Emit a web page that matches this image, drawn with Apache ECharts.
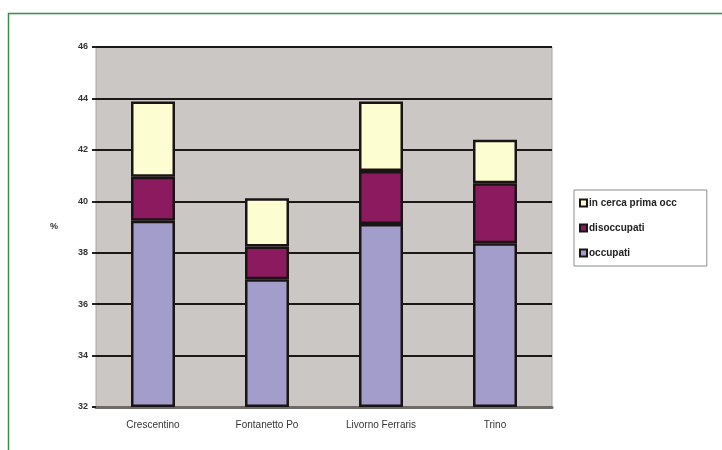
<!DOCTYPE html>
<html>
<head>
<meta charset="utf-8">
<script src="https://cdn.jsdelivr.net/npm/echarts@6/dist/echarts.min.js"></script>
<style>
  html, body { margin: 0; padding: 0; background: #ffffff; }
  #chart { width: 722px; height: 450px; }
</style>
</head>
<body>
<div id="chart"></div>
<script>
// Comuni e composizione percentuale (barre impilate)
const categories = ['Crescentino', 'Fontanetto Po', 'Livorno Ferraris', 'Trino'];
const occupati = [39.24, 36.97, 39.12, 38.37];
const disoccupati = [1.71, 1.27, 2.06, 2.33];
const inCercaPrimaOcc = [2.93, 1.88, 2.70, 1.69];
const yTicks = { min: 32, max: 46, interval: 2 };

// occupati is drawn from the axis minimum up to its value
const occBase = occupati.map(() => yTicks.min);
const occHeight = occupati.map(v => v - yTicks.min);

const chart = echarts.init(document.getElementById('chart'));
const barStyle = (color) => ({ color: color, borderColor: '#1a1414', borderWidth: 2.5 });

chart.setOption({
  animation: false,
  textStyle: { fontFamily: 'Liberation Sans, Arial, sans-serif' },
  graphic: [{
    type: 'rect',
    shape: { x: 8.5, y: 13.5, width: 760, height: 460 },
    style: { fill: 'none', stroke: '#3f8a47', lineWidth: 1.5 },
    silent: true
  }],
  grid: {
    left: 96, right: 170, top: 47, bottom: 43,
    show: true, backgroundColor: '#cbc7c5', borderColor: '#a9a6a4', borderWidth: 1
  },
  legend: {
    orient: 'vertical',
    left: 574, top: 190,
    data: ['in cerca prima occ', 'disoccupati', 'occupati'],
    itemWidth: 7, itemHeight: 7, itemGap: 15,
    padding: [8, 30, 8, 5],
    borderColor: '#8c8c8c', borderWidth: 1,
    icon: 'rect',
    textStyle: { fontSize: 10, color: '#222', fontWeight: 'bold', padding: [0, 0, 0, -3] }
  },
  xAxis: {
    type: 'category',
    data: categories,
    axisLine: { lineStyle: { color: '#6e6a68', width: 3 } },
    axisTick: { show: false },
    axisLabel: { fontSize: 10, color: '#333', margin: 13 }
  },
  yAxis: {
    type: 'value',
    min: yTicks.min, max: yTicks.max, interval: yTicks.interval,
    name: '%',
    nameLocation: 'middle',
    nameRotate: 0,
    nameGap: 38,
    nameTextStyle: { fontSize: 9, color: '#333', fontWeight: 'bold' },
    axisLine: { show: false },
    axisTick: { show: true, length: 4, lineStyle: { color: '#222', width: 2 } },
    axisLabel: { fontSize: 9, color: '#333', fontWeight: 'bold', margin: 8 },
    splitLine: { lineStyle: { color: '#1c1818', width: 2 } }
  },
  series: [
    {
      name: 'base', type: 'bar', stack: 'tot', data: occBase, barWidth: 44,
      itemStyle: { color: 'transparent' }, silent: true, tooltip: { show: false }
    },
    {
      name: 'occupati', type: 'bar', stack: 'tot', data: occHeight, barWidth: 44,
      itemStyle: barStyle('#a29dcb')
    },
    {
      name: 'disoccupati', type: 'bar', stack: 'tot', data: disoccupati, barWidth: 44,
      itemStyle: barStyle('#8c1a5e')
    },
    {
      name: 'in cerca prima occ', type: 'bar', stack: 'tot', data: inCercaPrimaOcc, barWidth: 44,
      itemStyle: barStyle('#fdfdd2')
    }
  ]
});
</script>
</body>
</html>
